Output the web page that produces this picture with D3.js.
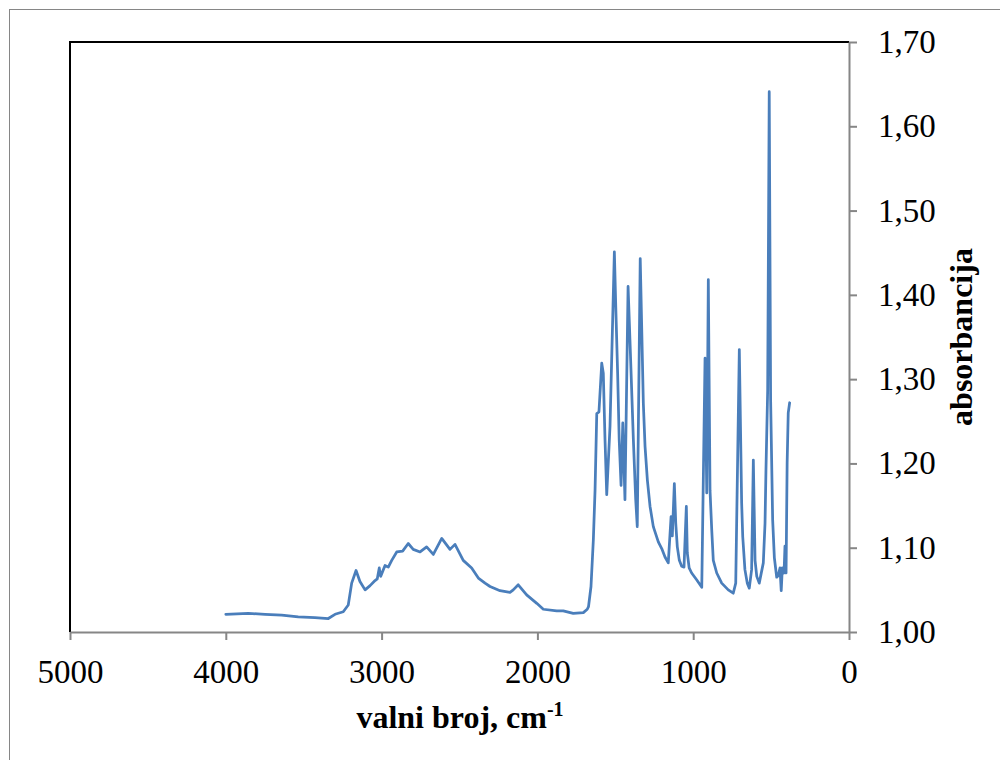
<!DOCTYPE html>
<html>
<head>
<meta charset="utf-8">
<script src="https://cdn.jsdelivr.net/npm/d3@7"></script>
<style>
  html, body { margin: 0; padding: 0; background: #fff; }
  svg { display: block; }
</style>
</head>
<body>
<svg id="chart" width="1000" height="760"></svg>
<script>
// IR spektar - podaci ocitani sa slike
const wavenumber = [4000, 3856, 3748, 3641, 3535, 3428, 3342, 3299, 3246, 3214,
  3192, 3164, 3139, 3106, 3074, 3042, 3028, 3015, 3006, 2978,
  2957, 2935, 2903, 2865, 2829, 2797, 2753, 2711, 2668, 2614,
  2561, 2529, 2476, 2422, 2379, 2336, 2304, 2240, 2176, 2155,
  2123, 2069, 2004, 1962, 1876, 1834, 1770, 1705, 1680, 1672,
  1656, 1641, 1630, 1619, 1605, 1587, 1577, 1566, 1555, 1534,
  1506, 1497, 1485, 1475, 1463, 1452, 1438, 1418, 1406, 1384,
  1369, 1359, 1340, 1320, 1309, 1294, 1277, 1256, 1224, 1202,
  1181, 1160, 1142, 1134, 1121, 1112, 1102, 1089, 1074, 1059,
  1044, 1038, 1026, 1010, 978, 945, 924, 913, 903, 892,
  881, 871, 849, 817, 775, 743, 727, 704, 689, 682,
  668, 653, 640, 625, 614, 603, 592, 576, 550, 539,
  533, 522, 512, 503, 490, 479, 464, 454, 443, 435,
  428, 417, 411, 404, 397, 390, 381]

const absorbance = [1.021, 1.022, 1.021, 1.020, 1.018, 1.017, 1.016, 1.021, 1.024, 1.032,
  1.058, 1.073, 1.060, 1.050, 1.055, 1.061, 1.063, 1.076, 1.066, 1.079,
  1.077, 1.085, 1.095, 1.096, 1.105, 1.098, 1.095, 1.101, 1.092, 1.111,
  1.098, 1.104, 1.085, 1.076, 1.064, 1.058, 1.054, 1.049, 1.047, 1.050,
  1.056, 1.044, 1.034, 1.027, 1.025, 1.025, 1.022, 1.023, 1.027, 1.030,
  1.054, 1.109, 1.168, 1.259, 1.261, 1.319, 1.307, 1.228, 1.163, 1.244,
  1.451, 1.386, 1.307, 1.228, 1.174, 1.248, 1.157, 1.410, 1.347, 1.228,
  1.157, 1.125, 1.443, 1.271, 1.220, 1.180, 1.149, 1.125, 1.107, 1.099,
  1.089, 1.082, 1.137, 1.114, 1.176, 1.129, 1.101, 1.085, 1.078, 1.077,
  1.149, 1.094, 1.076, 1.070, 1.062, 1.053, 1.325, 1.165, 1.418, 1.168,
  1.121, 1.085, 1.070, 1.058, 1.050, 1.046, 1.058, 1.335, 1.153, 1.113,
  1.074, 1.058, 1.052, 1.074, 1.204, 1.085, 1.066, 1.058, 1.082, 1.129,
  1.192, 1.287, 1.641, 1.275, 1.133, 1.088, 1.065, 1.067, 1.076, 1.049,
  1.076, 1.070, 1.102, 1.070, 1.201, 1.260, 1.272]

const xTicks = [5000, 4000, 3000, 2000, 1000, 0]
const yTicks = [1.00, 1.10, 1.20, 1.30, 1.40, 1.50, 1.60, 1.70]

const xTitle = "valni broj, cm"
const xTitleSup = "-1"
const yTitle = "absorbancija"

const svg = d3.select("#chart")

const margin = { top: 42, right: 151, bottom: 128, left: 70 },
    width = 1000 - margin.left - margin.right,
    height = 760 - margin.top - margin.bottom

const font = "'Liberation Serif', 'Times New Roman', serif"
const axisColor = "#868686"

// okvir grafikona
svg.append("rect")
    .attr("x", 9.5)
    .attr("y", 9.5)
    .attr("width", 1000)
    .attr("height", 760)
    .attr("fill", "none")
    .attr("stroke", axisColor)
    .attr("stroke-width", 1)

const g = svg.append("g")
    .attr("transform", `translate(${margin.left}, ${margin.top})`)

const x = d3.scaleLinear()
    .domain([5000, 0])
    .range([0, width])

const y = d3.scaleLinear()
    .domain([1.0, 1.7])
    .range([height, 0])

// crni rub gore i lijevo
g.append("path")
    .attr("d", `M0,${height} V0 H${width}`)
    .attr("fill", "none")
    .attr("stroke", "#000")
    .attr("stroke-width", 2)

// os x
const xAxis = g.append("g")
    .attr("transform", `translate(0, ${height})`)
    .call(d3.axisBottom(x)
        .tickValues(xTicks)
        .tickSize(8)
        .tickPadding(20)
        .tickSizeOuter(0)
        .tickFormat(d => d))

// os y (desno)
const yAxis = g.append("g")
    .attr("transform", `translate(${width}, 0)`)
    .call(d3.axisRight(y)
        .tickValues(yTicks)
        .tickSize(8)
        .tickPadding(21)
        .tickSizeOuter(0)
        .tickFormat(d => d.toFixed(2).replace(".", ",")))

for (const ax of [xAxis, yAxis]) {
    ax.select(".domain")
        .attr("stroke", axisColor)
        .attr("stroke-width", 2)
    ax.selectAll(".tick line")
        .attr("stroke", axisColor)
        .attr("stroke-width", 2)
    ax.selectAll(".tick text")
        .attr("fill", "#000")
        .style("font-family", font)
        .style("font-size", "33px")
}

// spektar
const points = wavenumber.map((w, i) => [w, absorbance[i]])

g.append("path")
    .datum(points)
    .attr("fill", "none")
    .attr("stroke", "#4a7ebb")
    .attr("stroke-width", 2.75)
    .attr("stroke-linejoin", "round")
    .attr("stroke-linecap", "round")
    .attr("d", d3.line()
        .x(d => x(d[0]))
        .y(d => y(d[1])))

// naslovi osi
const xt = svg.append("text")
    .attr("x", 460)
    .attr("y", 728)
    .attr("text-anchor", "middle")
    .style("font-family", font)
    .style("font-size", "32px")
    .style("font-weight", "bold")
    .text(xTitle)
xt.append("tspan")
    .attr("dy", -12)
    .style("font-size", "20px")
    .text(xTitleSup)

svg.append("text")
    .attr("transform", "translate(972, 337) rotate(-90)")
    .attr("text-anchor", "middle")
    .style("font-family", font)
    .style("font-size", "32px")
    .style("font-weight", "bold")
    .text(yTitle)
</script>
</body>
</html>
